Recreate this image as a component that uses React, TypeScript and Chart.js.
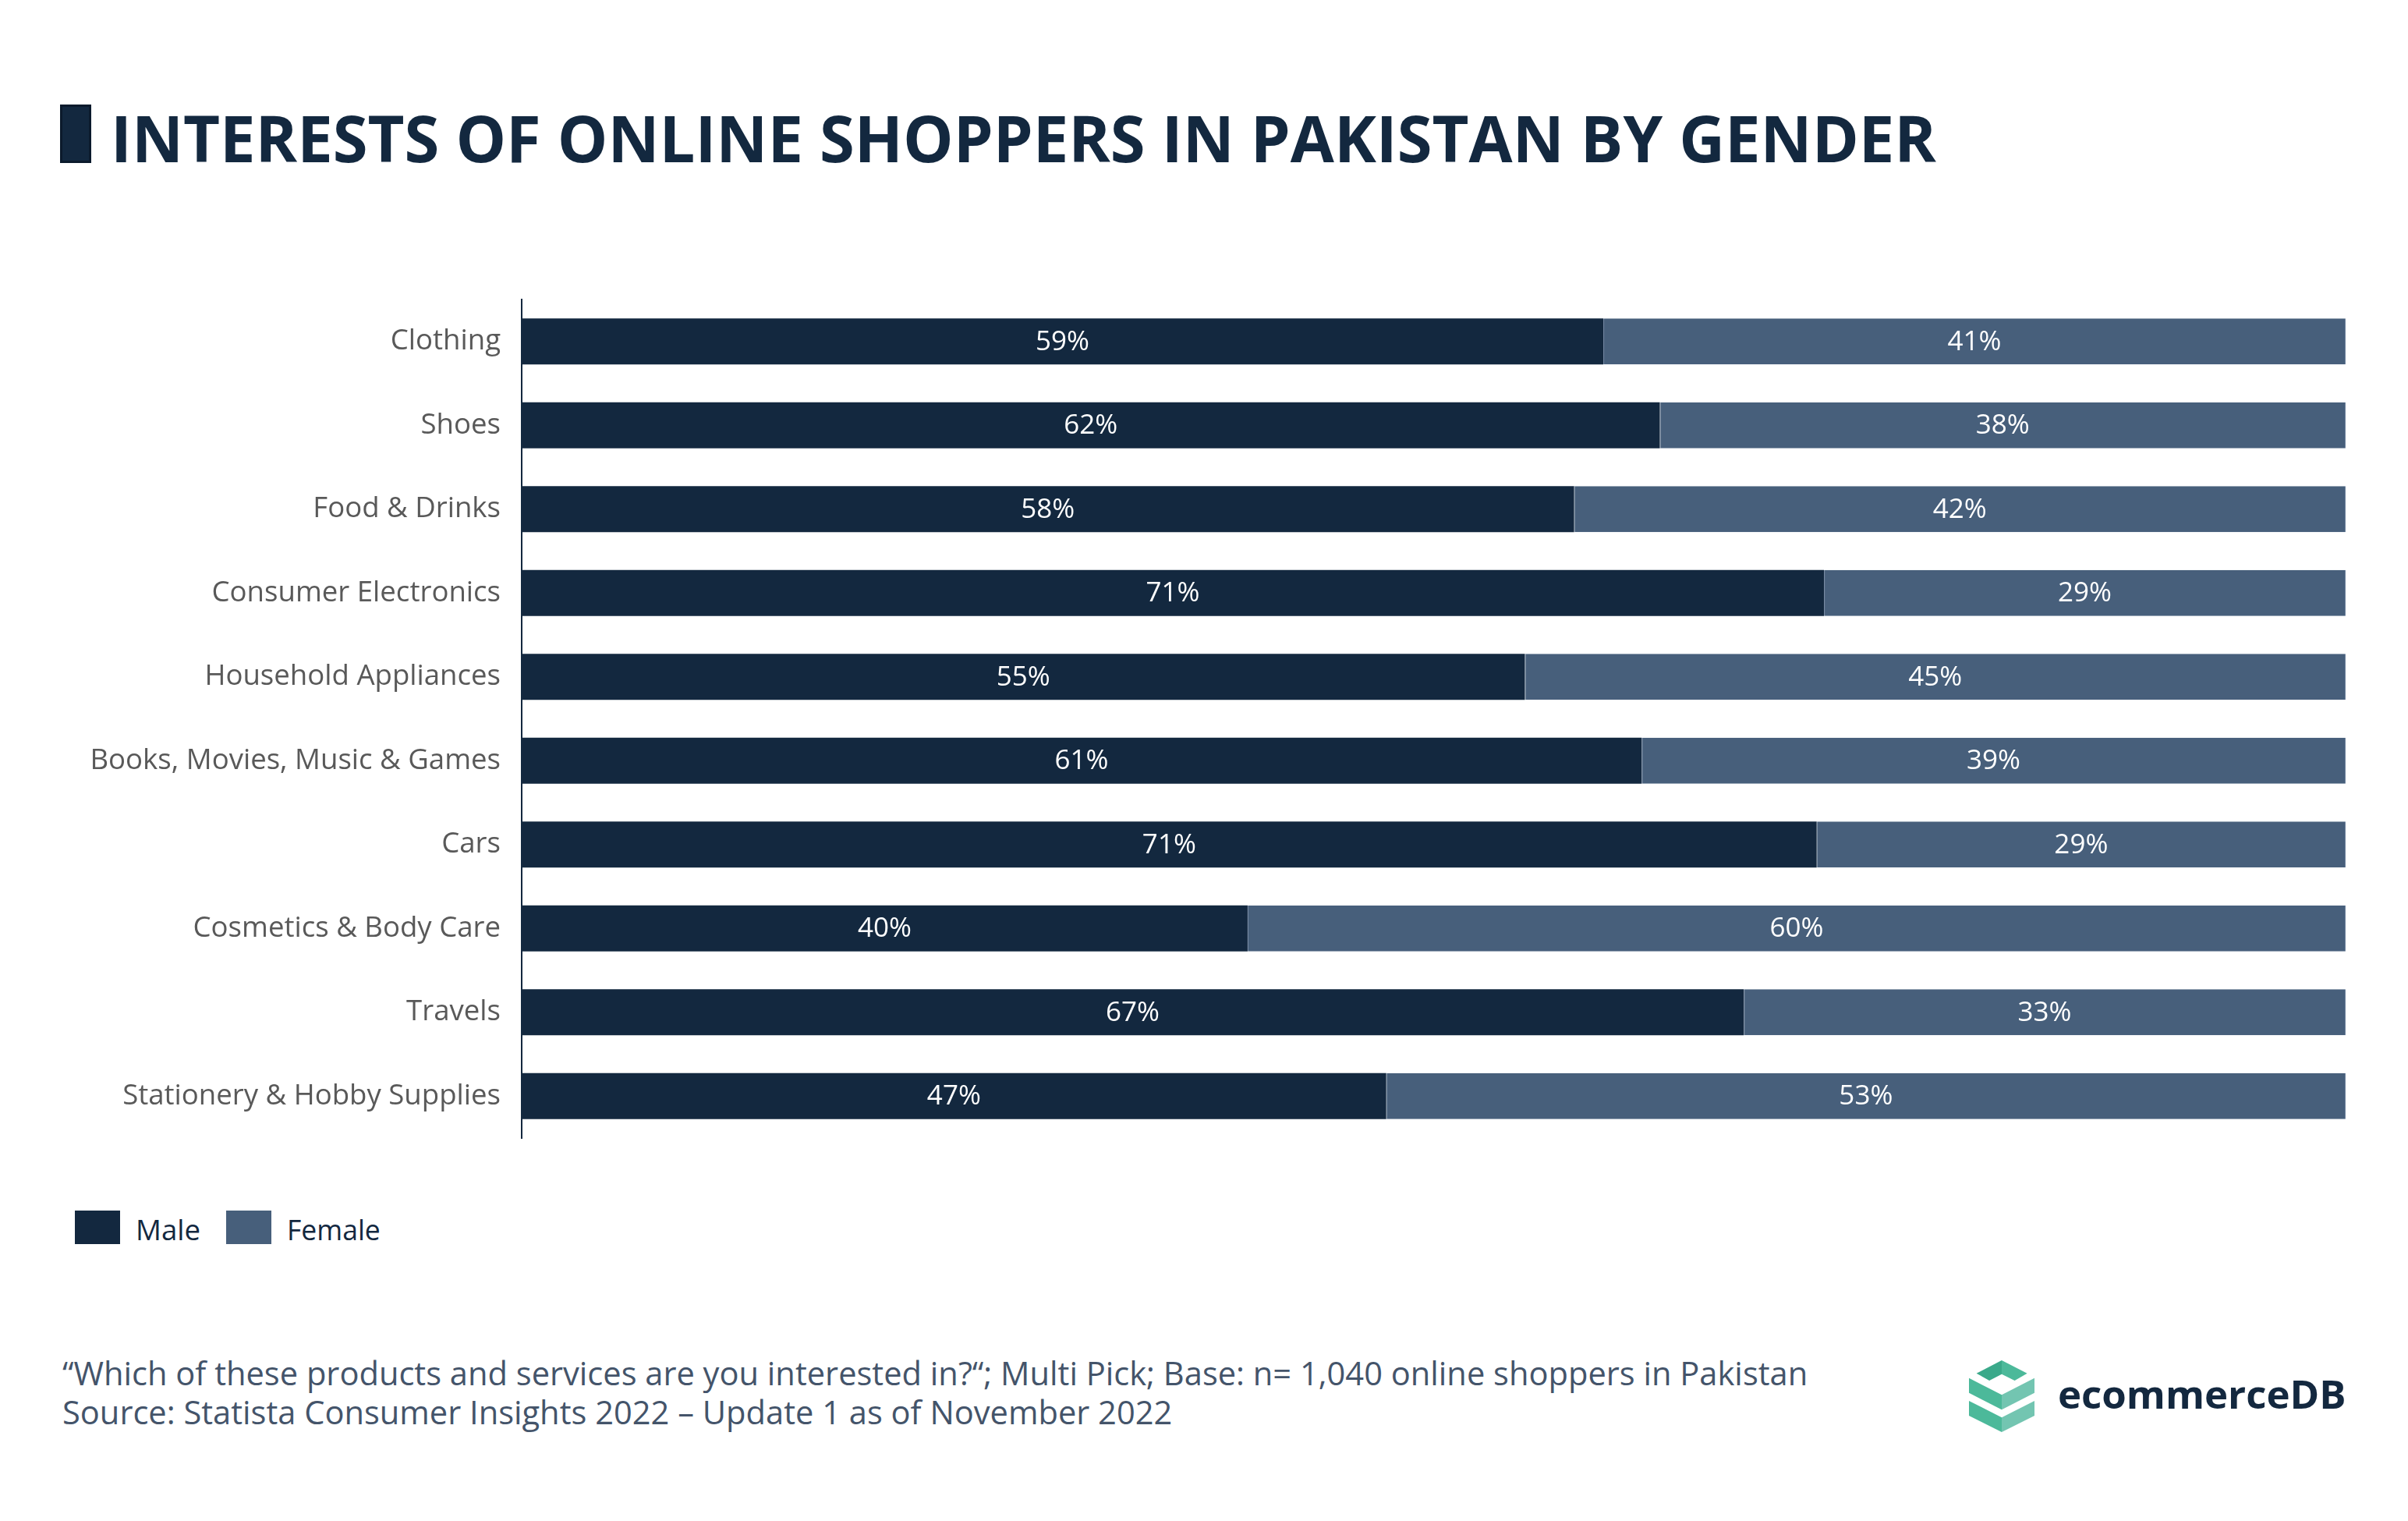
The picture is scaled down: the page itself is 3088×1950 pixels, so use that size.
import React, { useEffect, useLayoutEffect, useRef, useState } from 'react';
import { Chart, registerables } from 'chart.js';

Chart.register(...registerables);

const categories = [
  'Clothing',
  'Shoes',
  'Food & Drinks',
  'Consumer Electronics',
  'Household Appliances',
  'Books, Movies, Music & Games',
  'Cars',
  'Cosmetics & Body Care',
  'Travels',
  'Stationery & Hobby Supplies',
];
const maleValues = [59.3, 62.4, 57.7, 71.4, 55.0, 61.4, 71.0, 39.8, 67.0, 47.4];
const femaleValues = [40.7, 37.6, 42.3, 28.6, 45.0, 38.6, 29.0, 60.2, 33.0, 52.6];
const seriesNames = ['Male', 'Female'];
const seriesColors = ['#13283f', '#475f7b'];

const titleText = 'INTERESTS OF ONLINE SHOPPERS IN PAKISTAN BY GENDER';
const footerLines = [
  '\u201CWhich of these products and services are you interested in?\u201C; Multi Pick; Base: n= 1,040 online shoppers in Pakistan',
  'Source: Statista Consumer Insights 2022 \u2013 Update 1 as of November 2022',
];
const brandText = 'ecommerceDB';

const FONT = '"Open Sans", "Noto Sans", sans-serif';

function FitText(props: { text: string; width: number; left: number; top: number; style: React.CSSProperties }) {
  const ref = useRef<HTMLSpanElement>(null);
  const [scale, setScale] = useState(1);
  useLayoutEffect(() => {
    if (ref.current) {
      const w = ref.current.offsetWidth;
      if (w > 0) setScale(props.width / w);
    }
  }, [props.text, props.width]);
  return (
    <span
      ref={ref}
      style={{
        position: 'absolute',
        left: props.left,
        top: props.top,
        whiteSpace: 'nowrap',
        display: 'inline-block',
        transformOrigin: '0 0',
        transform: `scaleX(${scale})`,
        fontFamily: FONT,
        ...props.style,
      }}
    >
      {props.text}
    </span>
  );
}

const segmentLabels = {
  id: 'segmentLabels',
  afterDatasetsDraw(chart: any) {
    const ctx = chart.ctx;
    ctx.save();
    ctx.font = `35px ${FONT}`;
    ctx.fillStyle = '#ffffff';
    ctx.textAlign = 'center';
    ctx.textBaseline = 'middle';
    chart.data.datasets.forEach((ds: any, di: number) => {
      const meta = chart.getDatasetMeta(di);
      meta.data.forEach((el: any, i: number) => {
        const p = el.getProps(['x', 'y', 'base'], true);
        ctx.fillText(Math.round(ds.data[i]) + '%', (p.x + p.base) / 2, p.y + 1);
      });
    });
    ctx.restore();
  },
};

function BarChart() {
  const canvasRef = useRef<HTMLCanvasElement>(null);
  useEffect(() => {
    if (!canvasRef.current) return;
    const chart = new Chart(canvasRef.current, {
      type: 'bar',
      data: {
        labels: categories,
        datasets: [
          {
            label: seriesNames[0],
            data: maleValues,
            backgroundColor: seriesColors[0],
            borderWidth: 0,
            barPercentage: 0.55,
            categoryPercentage: 1,
          },
          {
            label: seriesNames[1],
            data: femaleValues,
            backgroundColor: seriesColors[1],
            borderColor: '#7186a0',
            borderWidth: { left: 1, right: 1, top: 0, bottom: 0 },
            borderSkipped: false,
            barPercentage: 0.55,
            categoryPercentage: 1,
          },
        ],
      },
      options: {
        indexAxis: 'y',
        responsive: false,
        animation: false,
        devicePixelRatio: 1,
        layout: { padding: { top: 384, bottom: 41, left: 0, right: 80 } },
        plugins: {
          legend: { display: false },
          tooltip: { enabled: false },
          title: { display: false },
        },
        scales: {
          x: {
            stacked: true,
            min: 0,
            max: 100,
            display: false,
          },
          y: {
            stacked: true,
            afterFit: (scale: any) => {
              scale.width = 669;
              scale.paddingTop = 0;
              scale.paddingBottom = 0;
            },
            grid: { display: true, drawOnChartArea: false, drawTicks: false, color: 'rgba(0,0,0,0)' },
            border: { display: true, color: '#13283f', width: 2 },
            ticks: {
              padding: 27,
              color: '#595959',
              font: { family: FONT, size: 36.6 },
            },
          },
        },
      },
      plugins: [segmentLabels],
    });
    return () => chart.destroy();
  }, []);
  return (
    <canvas
      ref={canvasRef}
      width={3088}
      height={1500}
      style={{ position: 'absolute', left: 0, top: 0, width: 3088, height: 1500 }}
    />
  );
}

function Logo() {
  const dark = '#3aa98a';
  const mid = '#4cb99a';
  const light = '#73c5b1';
  return (
    <svg
      width={84}
      height={92}
      viewBox="0 0 84 92"
      style={{ position: 'absolute', left: 2525, top: 1744 }}
    >
      <polygon points="9.6,16.7 42,0 42,17.7 26.1,26" fill={dark} />
      <polygon points="42,0 74.6,16.7 58.6,26 42,17.7" fill={mid} />
      <polygon points="0,22.7 42,44.3 42,63.3 0,41.7" fill={mid} />
      <polygon points="42,44.3 84,22.7 84,41.7 42,63.3" fill={light} />
      <polygon points="0,52 42,73.3 42,92 0,71" fill={mid} />
      <polygon points="42,73.3 84,52 84,71 42,92" fill={light} />
    </svg>
  );
}

export default function App() {
  return (
    <div
      style={{
        position: 'absolute',
        left: 0,
        top: 0,
        width: 3088,
        height: 1950,
        background: '#ffffff',
        overflow: 'hidden',
        fontFamily: FONT,
      }}
    >
      <div
        style={{
          position: 'absolute',
          left: 77,
          top: 134,
          width: 40,
          height: 75,
          background: '#13283f',
          border: '3px solid #0b1a2c',
          boxSizing: 'border-box',
        }}
      />
      <FitText
        text={titleText}
        width={2341}
        left={142}
        top={134}
        style={{ fontSize: 83, lineHeight: '83px', fontWeight: 700, color: '#13283f' }}
      />
      <BarChart />
      {/* Legend */}
      <div style={{ position: 'absolute', left: 96, top: 1552, width: 58, height: 43, background: seriesColors[0] }} />
      <FitText
        text={seriesNames[0]}
        width={83}
        left={174}
        top={1557}
        style={{ fontSize: 37, lineHeight: '37px', color: '#13283f' }}
      />
      <div style={{ position: 'absolute', left: 290, top: 1552, width: 58, height: 43, background: seriesColors[1] }} />
      <FitText
        text={seriesNames[1]}
        width={120}
        left={368}
        top={1557}
        style={{ fontSize: 37, lineHeight: '37px', color: '#13283f' }}
      />
      {/* Footer */}
      <FitText
        text={footerLines[0]}
        width={2238}
        left={80}
        top={1739}
        style={{ fontSize: 42, lineHeight: '42px', color: '#44546a' }}
      />
      <FitText
        text={footerLines[1]}
        width={1423}
        left={80}
        top={1789}
        style={{ fontSize: 42, lineHeight: '42px', color: '#44546a' }}
      />
      <Logo />
      <FitText
        text={brandText}
        width={370}
        left={2639}
        top={1762}
        style={{ fontSize: 50, lineHeight: '50px', fontWeight: 700, color: '#13283f' }}
      />
    </div>
  );
}
